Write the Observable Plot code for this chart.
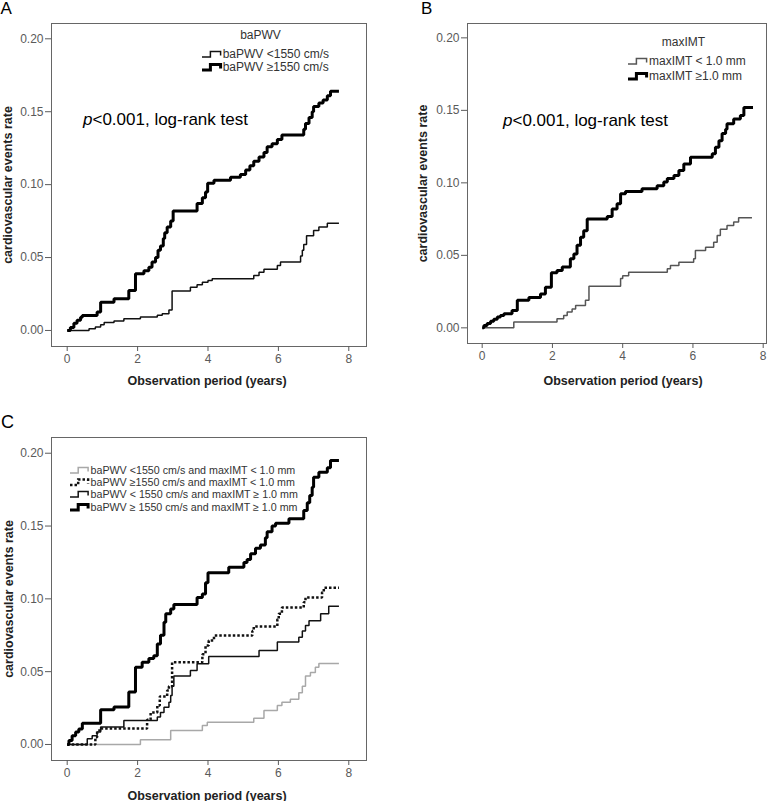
<!DOCTYPE html>
<html><head><meta charset="utf-8">
<script src="https://cdn.jsdelivr.net/npm/d3@7"></script>
<script src="https://cdn.jsdelivr.net/npm/@observablehq/plot@0.6"></script>
<style>
body{margin:0;background:#fff;}
#wrap{position:relative;width:779px;height:801px;overflow:hidden;font-family:"Liberation Sans",Arial,sans-serif;}
.abs{position:absolute;white-space:nowrap;line-height:1;}
.panel{position:absolute;}
</style></head><body><div id="wrap"></div>
<script>
// ---------- data (time in years, cumulative event rate) ----------
const xTicks = [0, 2, 4, 6, 8];
const yTicks = [0, 0.05, 0.10, 0.15, 0.20];
const yTitle = "cardiovascular events rate";
const xTitle = "Observation period (years)";

// Panel A: baPWV
const A_low = [[0,0],[0.62,0.0012],[0.8,0.0023],[0.95,0.004],[1.05,0.0055],[1.33,0.0065],[1.61,0.008],[2.08,0.0092],[2.56,0.0105],[2.7,0.0115],[2.89,0.014],[2.98,0.027],[3.5,0.0297],[3.69,0.0313],[3.84,0.033],[4.0,0.0343],[4.12,0.0355],[5.3,0.0377],[5.45,0.04],[5.59,0.042],[5.97,0.0446],[6.06,0.047],[6.63,0.051],[6.68,0.055],[6.72,0.059],[6.8,0.065],[7.0,0.0686],[7.15,0.0709],[7.39,0.0736],[7.72,0.0736]];
const A_high = [[0,0],[0.09,0.002],[0.19,0.005],[0.28,0.007],[0.38,0.009],[0.43,0.0103],[0.85,0.0126],[0.95,0.0194],[1.33,0.0217],[1.75,0.0274],[1.94,0.0389],[2.18,0.041],[2.32,0.0434],[2.41,0.0469],[2.51,0.05],[2.58,0.055],[2.65,0.058],[2.73,0.063],[2.77,0.067],[2.84,0.071],[2.94,0.075],[3.01,0.082],[3.69,0.087],[3.84,0.091],[3.93,0.095],[3.99,0.101],[4.17,0.103],[4.64,0.105],[4.92,0.107],[5.07,0.11],[5.19,0.113],[5.3,0.116],[5.45,0.119],[5.59,0.122],[5.68,0.126],[5.82,0.128],[5.97,0.131],[6.1,0.134],[6.72,0.138],[6.77,0.142],[6.87,0.146],[6.96,0.15],[7.0,0.1536],[7.15,0.156],[7.27,0.158],[7.39,0.161],[7.48,0.164],[7.72,0.164]];
const A_labels = ["baPWV <1550 cm/s", "baPWV \u22651550 cm/s"];

// Panel B: maxIMT
const B_low = [[0,0],[0.9,0.004],[2.13,0.0062],[2.32,0.0085],[2.42,0.011],[2.56,0.013],[2.66,0.0154],[2.94,0.019],[3.04,0.0287],[3.94,0.034],[4.0,0.036],[4.17,0.0384],[5.27,0.0407],[5.36,0.043],[5.6,0.0453],[6.02,0.0476],[6.07,0.0533],[6.36,0.0556],[6.59,0.059],[6.69,0.0637],[6.78,0.068],[6.97,0.0706],[7.16,0.073],[7.3,0.0759],[7.68,0.0759]];
const B_high = [[0,0],[0.05,0.0016],[0.14,0.003],[0.24,0.0045],[0.33,0.006],[0.43,0.0075],[0.52,0.0085],[0.62,0.0097],[0.85,0.012],[1.0,0.019],[1.33,0.021],[1.66,0.0234],[1.8,0.028],[1.97,0.038],[2.13,0.0395],[2.28,0.042],[2.51,0.0476],[2.61,0.051],[2.7,0.057],[2.8,0.0625],[2.89,0.067],[2.99,0.075],[3.56,0.0768],[3.7,0.082],[3.84,0.0855],[3.94,0.0924],[4.08,0.094],[4.55,0.0959],[4.98,0.098],[5.17,0.1005],[5.27,0.103],[5.46,0.105],[5.6,0.1085],[5.74,0.113],[5.93,0.1177],[6.55,0.12],[6.64,0.1246],[6.74,0.129],[6.83,0.134],[6.93,0.137],[6.97,0.1407],[7.16,0.144],[7.35,0.1465],[7.45,0.152],[7.71,0.152]];
const B_labels = ["maxIMT < 1.0 mm", "maxIMT \u22651.0 mm"];

// Panel C: combined groups
const C_lowlow = [[0,0],[2.08,0.0032],[2.94,0.0096],[3.84,0.013],[3.98,0.0153],[5.3,0.018],[5.59,0.0233],[5.97,0.0268],[6.1,0.029],[6.34,0.031],[6.58,0.0355],[6.68,0.04],[6.77,0.047],[6.91,0.0494],[7.05,0.053],[7.15,0.0556],[7.72,0.0556]];
const C_highlow = [[0,0],[0.8,0.005],[0.85,0.0096],[0.95,0.011],[2.27,0.017],[2.37,0.022],[2.56,0.0268],[2.63,0.033],[2.84,0.037],[2.89,0.04],[2.98,0.0565],[3.84,0.062],[3.93,0.068],[4.02,0.0714],[4.17,0.0748],[5.26,0.078],[5.3,0.081],[5.97,0.086],[6.01,0.0897],[6.1,0.094],[6.72,0.0977],[6.77,0.101],[7.24,0.1046],[7.29,0.1076],[7.72,0.1076]];
const C_lowhigh = [[0,0],[0.57,0.004],[0.71,0.006],[0.85,0.0085],[0.95,0.012],[1.61,0.0165],[2.56,0.0188],[2.65,0.022],[2.75,0.0256],[2.89,0.029],[2.94,0.0336],[2.98,0.04],[3.03,0.047],[3.5,0.0508],[3.69,0.0554],[4.02,0.0604],[5.45,0.0645],[5.97,0.0703],[6.58,0.0737],[6.68,0.078],[6.77,0.0817],[6.87,0.085],[7.2,0.0897],[7.43,0.095],[7.72,0.095]];
const C_highhigh = [[0,0],[0.05,0.0027],[0.14,0.006],[0.24,0.0085],[0.33,0.0107],[0.43,0.0146],[0.95,0.0238],[1.33,0.0257],[1.75,0.036],[1.94,0.053],[2.13,0.0565],[2.32,0.059],[2.46,0.061],[2.56,0.069],[2.65,0.075],[2.75,0.084],[2.8,0.0897],[2.94,0.093],[3.03,0.0961],[3.69,0.101],[3.84,0.1034],[3.93,0.111],[4.0,0.118],[4.59,0.1217],[5.02,0.1249],[5.11,0.127],[5.21,0.131],[5.35,0.1347],[5.49,0.137],[5.63,0.142],[5.68,0.146],[5.82,0.15],[5.92,0.152],[6.3,0.155],[6.72,0.1606],[6.82,0.166],[6.89,0.171],[6.96,0.1766],[7.0,0.1835],[7.15,0.187],[7.39,0.19],[7.48,0.195],[7.72,0.195]];
const C_labels = ["baPWV <1550 cm/s and maxIMT < 1.0 mm", "baPWV \u22651550 cm/s and maxIMT < 1.0 mm", "baPWV < 1550 cm/s and maxIMT \u2265 1.0 mm", "baPWV \u2265 1550 cm/s and maxIMT \u2265 1.0 mm"];

// ---------- drawing ----------
const FONT = '"Liberation Sans", Arial, sans-serif';
const wrap = document.getElementById("wrap");

function makePanel(cfg) {
  const marks = [
    Plot.frame({stroke: "#666", strokeWidth: 1}),
    Plot.axisY({ticks: yTicks, tickFormat: d3.format(".2f"), tickSize: 6, tickPadding: 2, label: null, fontSize: 12, color: "#5a5a5a"}),
    Plot.axisX({ticks: xTicks, tickFormat: d3.format("d"), tickSize: 5, tickPadding: 3, label: null, fontSize: 12, color: "#5a5a5a"}),
    ...cfg.series.map(s => Plot.line(s.pts, {
      x: d => d[0], y: d => d[1], curve: "step-after",
      stroke: s.color, strokeWidth: s.width, strokeDasharray: s.dash,
      strokeLinejoin: "miter", strokeLinecap: "butt"
    })),
    Plot.text([yTitle], {text: d => d, frameAnchor: "left", dx: cfg.yTitleDx, rotate: -90,
      textAnchor: "middle", lineAnchor: "middle", fontWeight: "bold", fontSize: 12.5, fill: "#222"}),
    Plot.text([xTitle], {text: d => d, frameAnchor: "bottom", dx: cfg.xTitleDx, dy: cfg.xTitleDy,
      textAnchor: "middle", lineAnchor: "middle", fontWeight: "bold", fontSize: 12.5, fill: "#222"})
  ];
  const svg = Plot.plot({
    width: cfg.width, height: cfg.height,
    marginLeft: cfg.m[0], marginRight: cfg.m[1], marginTop: cfg.m[2], marginBottom: cfg.m[3],
    x: {domain: cfg.xDomain, label: null},
    y: {domain: cfg.yDomain, label: null},
    style: {fontFamily: FONT, fontSize: "12px", color: "#5a5a5a", background: "transparent", overflow: "visible"},
    marks
  });
  const holder = document.createElement("div");
  holder.className = "panel";
  holder.style.left = cfg.left + "px";
  holder.style.top = cfg.top + "px";
  holder.appendChild(svg);
  wrap.appendChild(holder);
}

function addText(html, left, baseline, fs, opts = {}) {
  const d = document.createElement("div");
  d.className = "abs";
  d.innerHTML = html;
  d.style.left = left + "px";
  d.style.top = (baseline - 0.8465 * fs) + "px";
  d.style.fontSize = fs + "px";
  d.style.color = opts.color || "#000";
  if (opts.center) d.style.transform = "translateX(-50%)";
  wrap.appendChild(d);
  return d;
}

function swatch(w, color, sw, dash) {
  const x1 = (w * 0.42).toFixed(1), x2 = (w * 0.93).toFixed(1);
  return `<svg width="${w + 1}" height="9" style="vertical-align:baseline;overflow:visible">` +
    `<path d="M0,8 H${x1} V2.5 H${x2} V6.5" fill="none" stroke="${color}" stroke-width="${sw}"` +
    ` stroke-linejoin="miter" ${dash ? `stroke-dasharray="${dash}"` : ""}/></svg>`;
}

// Panel A
makePanel({
  left: 0, top: 0, width: 390, height: 400, m: [51, 24, 23, 54],
  xDomain: [-0.446, 8.503], yDomain: [-0.011, 0.2105],
  yTitleDx: -44, xTitleDx: -2, xTitleDy: 34,
  series: [
    {pts: A_low, color: "#111", width: 1.5},
    {pts: A_high, color: "#000", width: 3}
  ]
});
// Panel B
makePanel({
  left: 390, top: 0, width: 389, height: 400, m: [77, 13, 23, 57],
  xDomain: [-0.418, 8.094], yDomain: [-0.0108, 0.2099],
  yTitleDx: -44.7, xTitleDx: 6, xTitleDy: 37,
  series: [
    {pts: B_low, color: "#555", width: 1.5},
    {pts: B_high, color: "#000", width: 3}
  ]
});
// Panel C
makePanel({
  left: 0, top: 400, width: 390, height: 401, m: [51, 24, 37, 41],
  xDomain: [-0.446, 8.503], yDomain: [-0.011, 0.2108],
  yTitleDx: -42.5, xTitleDx: -2, xTitleDy: 35,
  series: [
    {pts: C_lowlow, color: "#a8a8a8", width: 1.5},
    {pts: C_lowhigh, color: "#111", width: 1.5},
    {pts: C_highlow, color: "#111", width: 2.5, dash: "2.5,2"},
    {pts: C_highhigh, color: "#000", width: 3}
  ]
});

// Panel letters
addText("A", 0.5, 14, 17);
addText("B", 421, 14, 17);
addText("C", 1, 428, 18);

// p-value annotations
addText("<i>p</i>&lt;0.001, log-rank test", 83, 125, 17);
addText("<i>p</i>&lt;0.001, log-rank test", 503, 126, 17);

// Legend A
addText("baPWV", 260.5, 39.3, 12, {color: "#333", center: true});
addText(swatch(20, "#111", 1.5) + A_labels[0], 201.7, 58.3, 12, {color: "#333"});
addText(swatch(20, "#000", 3) + A_labels[1], 201.7, 71.5, 12, {color: "#333"});

// Legend B
addText("maxIMT", 683.5, 46.5, 12, {color: "#333", center: true});
addText(swatch(20, "#555", 1.5) + B_labels[0], 628, 65.5, 12, {color: "#333"});
addText(swatch(20, "#000", 3) + B_labels[1], 628, 80, 12, {color: "#333"});

// Legend C
const cSw = [["#a8a8a8", 1.5, null], ["#111", 2.5, "2.5,2"], ["#111", 1.5, null], ["#000", 3, null]];
const cBase = [474, 486.2, 498.4, 510.6];
C_labels.forEach((lab, i) => {
  addText(swatch(19.5, cSw[i][0], cSw[i][1], cSw[i][2]) + lab, 70, cBase[i], 10.7, {color: "#333"});
});
</script>
</body></html>
